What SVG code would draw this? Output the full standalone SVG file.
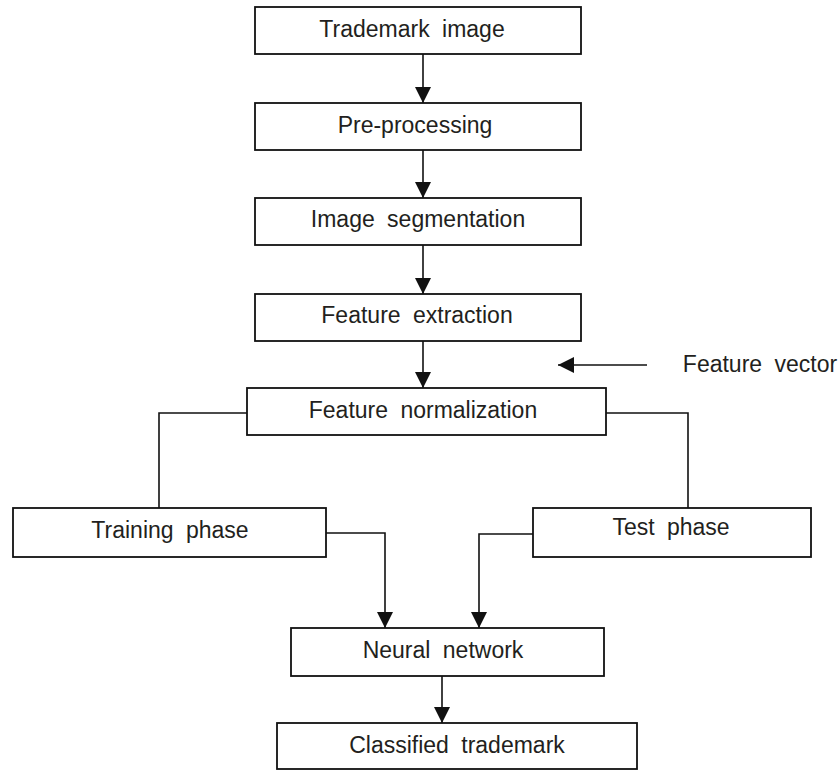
<svg xmlns="http://www.w3.org/2000/svg" width="840" height="772" viewBox="0 0 840 772">
<style>
.box{fill:#fff;stroke:#111;stroke-width:1.8}
.lbl{font-family:"Liberation Sans",Arial,sans-serif;font-size:23px;fill:#231f20;text-anchor:middle;word-spacing:6px}
.wire{fill:none;stroke:#111;stroke-width:1.6}
</style>
<defs>
<marker id="ah" viewBox="0 0 16 16" refX="16" refY="8" markerWidth="16" markerHeight="16" markerUnits="userSpaceOnUse" orient="auto">
<path d="M0,0 L16,8 L0,16 z" fill="#111"/>
</marker>
</defs>
<rect width="840" height="772" fill="#fff"/>
<g id="connectors">
<line class="wire" x1="423" y1="54" x2="423" y2="103" marker-end="url(#ah)"/>
<line class="wire" x1="423" y1="150" x2="423" y2="198" marker-end="url(#ah)"/>
<line class="wire" x1="423" y1="245" x2="423" y2="294" marker-end="url(#ah)"/>
<line class="wire" x1="423" y1="341" x2="423" y2="388" marker-end="url(#ah)"/>
<line class="wire" x1="647" y1="365" x2="558" y2="365" marker-end="url(#ah)"/>
<polyline class="wire" points="247,413 159,413 159,508"/>
<polyline class="wire" points="606,413 688,413 688,508"/>
<polyline class="wire" points="326,533 385,533 385,628" marker-end="url(#ah)"/>
<polyline class="wire" points="533,534 479,534 479,628" marker-end="url(#ah)"/>
<line class="wire" x1="442" y1="676" x2="442" y2="723" marker-end="url(#ah)"/>
</g>
<g id="trademark-image"><rect class="box" x="255" y="7" width="326" height="47"/><text class="lbl" x="412" y="37">Trademark image</text></g>
<g id="pre-processing"><rect class="box" x="255" y="103" width="326" height="47"/><text class="lbl" x="415" y="133">Pre-processing</text></g>
<g id="image-segmentation"><rect class="box" x="255" y="198" width="326" height="47"/><text class="lbl" x="418" y="227">Image segmentation</text></g>
<g id="feature-extraction"><rect class="box" x="255" y="294" width="326" height="47"/><text class="lbl" x="417" y="323">Feature extraction</text></g>
<g id="feature-vector"><text class="lbl" x="760" y="372">Feature vector</text></g>
<g id="feature-normalization"><rect class="box" x="247" y="388" width="359" height="47"/><text class="lbl" x="423" y="418">Feature normalization</text></g>
<g id="training-phase"><rect class="box" x="13" y="508" width="313" height="49"/><text class="lbl" x="170" y="538">Training phase</text></g>
<g id="test-phase"><rect class="box" x="533" y="508" width="278" height="49"/><text class="lbl" x="671" y="535">Test phase</text></g>
<g id="neural-network"><rect class="box" x="291" y="628" width="313" height="48"/><text class="lbl" x="443" y="658">Neural network</text></g>
<g id="classified-trademark"><rect class="box" x="277" y="723" width="360" height="46"/><text class="lbl" x="457" y="753">Classified trademark</text></g>
</svg>
